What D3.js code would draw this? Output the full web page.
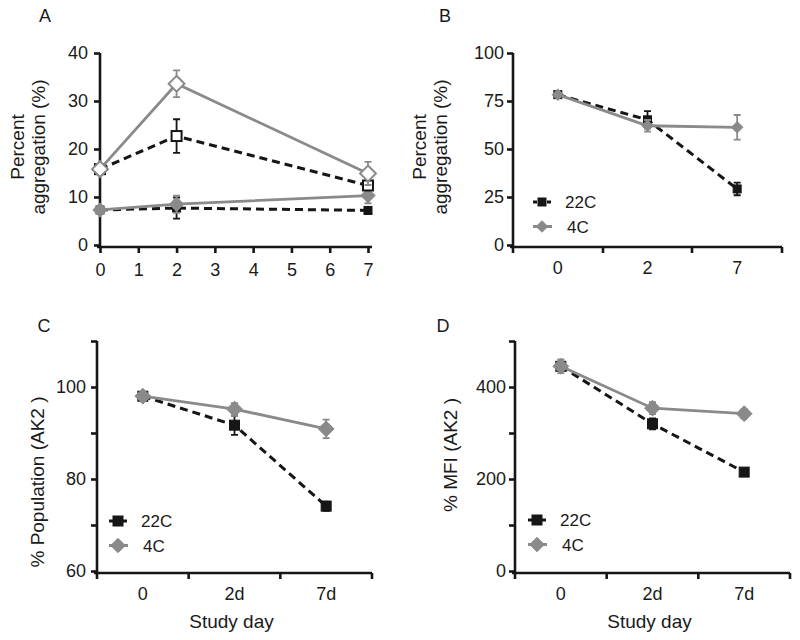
<!DOCTYPE html>
<html><head><meta charset="utf-8">
<script src="https://cdn.jsdelivr.net/npm/d3@7"></script>
<style>body{margin:0;background:#fff}svg{display:block;font-family:"Liberation Sans",Arial,sans-serif}</style>
</head><body><svg id="c" width="800" height="640"></svg>
<script>
// ---- Data ----
const daysA = [0, 2, 7];
const A_grayOpen = [15.8, 33.6, 14.9];
const A_grayOpenErr = [0.6, 2.8, 2.4];
const A_blackOpen = [15.8, 22.7, 12.4];
const A_blackOpenErr = [0.6, 3.5, 0.8];
const A_grayFill = [7.3, 8.5, 10.3];
const A_grayFillErr = [0.5, 1.8, 1.6];
const A_blackFill = [7.3, 7.7, 7.2];
const A_blackFillErr = [0.5, 2.2, 0.6];
const A_xTicks = [0, 1, 2, 3, 4, 5, 6, 7];
const A_yTicks = [0, 10, 20, 30, 40];

const B_cats = ["0", "2", "7"];
const B_22C = [78.3, 65.2, 29.2];
const B_22CErr = [0.8, 4.5, 3.3];
const B_4C = [78.3, 62.1, 61.3];
const B_4CErr = [0.8, 3.0, 6.4];
const B_yTicks = [0, 25, 50, 75, 100];

const CD_cats = ["0", "2d", "7d"];
const C_22C = [98.0, 91.7, 74.1];
const C_22CErr = [0.5, 2.1, 1.0];
const C_4C = [98.0, 95.2, 90.9];
const C_4CErr = [0.5, 1.3, 2.0];
const C_yTicks = [60, 70, 80, 90, 100, 110];
const C_yLabels = [60, 80, 100];

const D_22C = [445, 320, 215];
const D_22CErr = [10, 12, 4];
const D_4C = [445, 354, 342];
const D_4CErr = [15, 13, 10];
const D_yTicks = [0, 100, 200, 300, 400, 500];
const D_yLabels = [0, 200, 400];

const legendNames = ["22C", "4C"];

// ---- Styles ----
const BLACK = "#161616", GRAY = "#8a8a8a";
const svg = d3.select("#c");

function drawAxes(g, x, y, opt) {
  // y axis
  const ya = g.append("g").attr("transform", `translate(${opt.yAxisX},0)`)
    .call(d3.axisLeft(y).tickValues(opt.yTicks).tickSize(6).tickPadding(opt.yPad)
      .tickFormat(d => opt.yLabels.includes(d) ? d : ""));
  ya.select(".domain").attr("d", `M0,${opt.yTop}V${opt.xAxisY}`);
  // x axis
  const xa = g.append("g").attr("transform", `translate(0,${opt.xAxisY})`)
    .call(opt.xAxis);
  xa.select(".domain").attr("d", `M${opt.yAxisX - 3},0H${opt.xEnd}`);
  [ya, xa].forEach(a => {
    a.selectAll(".domain").attr("stroke", BLACK).attr("stroke-width", 2.6).attr("fill", "none");
    a.selectAll(".tick line").attr("stroke", BLACK).attr("stroke-width", 2.6);
    a.selectAll("text").attr("fill", "#1a1a1a").attr("font-size", 18)
      .attr("font-family", '"Liberation Sans",Arial,sans-serif');
  });
  return {ya, xa};
}

function marker(g, shape, cx, cy, size, color, filled) {
  if (shape === "square") {
    g.append("rect").attr("x", cx - size / 2).attr("y", cy - size / 2)
      .attr("width", size).attr("height", size)
      .attr("fill", filled ? color : "#fff").attr("stroke", color).attr("stroke-width", filled ? 1 : 2);
  } else {
    const r = size * 0.72;
    g.append("path").attr("d", `M${cx},${cy - r}L${cx + r},${cy}L${cx},${cy + r}L${cx - r},${cy}Z`)
      .attr("fill", filled ? color : "#fff").attr("stroke", color).attr("stroke-width", filled ? 1 : 2);
  }
}

function series(g, xs, vals, errs, x, y, o) {
  const pts = xs.map((d, i) => [x(d), y(vals[i])]);
  g.append("path").attr("d", d3.line()(pts)).attr("fill", "none")
    .attr("stroke", o.color).attr("stroke-width", o.dash ? 3 : 2.8)
    .attr("stroke-dasharray", o.dash ? "8,5" : null);
  xs.forEach((d, i) => {
    const cx = x(d), y1 = y(vals[i] + errs[i]), y2 = y(vals[i] - errs[i]);
    g.append("path").attr("d", `M${cx},${y1}V${y2}M${cx - 3.5},${y1}H${cx + 3.5}M${cx - 3.5},${y2}H${cx + 3.5}`)
      .attr("stroke", o.color).attr("stroke-width", 1.8).attr("fill", "none");
  });
  xs.forEach((d, i) => marker(g, o.shape, x(d), y(vals[i]), o.size, o.color, o.filled));
}

function legend(g, x0, yTop, size) {
  const items = [
    {name: legendNames[0], color: BLACK, shape: "square", dash: true},
    {name: legendNames[1], color: GRAY, shape: "diamond", dash: false}
  ];
  items.forEach((it, i) => {
    const yy = yTop + i * 24.5;
    g.append("line").attr("x1", x0 - 9).attr("x2", x0 + 10).attr("y1", yy).attr("y2", yy)
      .attr("stroke", it.color).attr("stroke-width", 3).attr("stroke-dasharray", it.dash ? "4,3" : null);
    marker(g, it.shape, x0, yy, size, it.color, true);
    g.append("text").attr("x", x0 + 23 + (i ? 2 : 0)).attr("y", yy + 6).attr("font-size", 17)
      .attr("fill", "#1a1a1a").text(it.name);
  });
}

function panelLabel(t, x, y) {
  svg.append("text").attr("x", x).attr("y", y).attr("font-size", 18).attr("fill", "#1a1a1a")
    .attr("text-anchor", "middle").text(t);
}

function yTitle(lines, cx, cy) {
  lines.forEach(l => {
    svg.append("text").attr("transform", `translate(${l.x},${cy}) rotate(-90)`)
      .attr("text-anchor", "middle").attr("font-size", 19).attr("fill", "#1a1a1a").text(l.t);
  });
}

// ---- Panel A ----
{
  const g = svg.append("g");
  const x = d3.scaleLinear().domain([0, 7]).range([100, 368]);
  const y = d3.scaleLinear().domain([0, 40]).range([245, 53]);
  drawAxes(g, x, y, {
    yAxisX: 100, yTop: 53, xAxisY: 247, xEnd: 372, yTicks: A_yTicks, yLabels: A_yTicks, yPad: 6,
    xAxis: d3.axisBottom(x).tickValues(A_xTicks).tickSize(6).tickPadding(10).tickFormat(d3.format("d"))
  });
  series(g, daysA, A_blackFill, A_blackFillErr, x, y, {color: BLACK, dash: true, shape: "square", size: 8, filled: true});
  series(g, daysA, A_grayFill, A_grayFillErr, x, y, {color: GRAY, dash: false, shape: "diamond", size: 10, filled: true});
  series(g, daysA, A_blackOpen, A_blackOpenErr, x, y, {color: BLACK, dash: true, shape: "square", size: 10, filled: false});
  series(g, daysA, A_grayOpen, A_grayOpenErr, x, y, {color: GRAY, dash: false, shape: "diamond", size: 11, filled: false});
  panelLabel("A", 45, 22);
  yTitle([{t: "Percent", x: 24}, {t: "aggregation (%)", x: 45}], 0, 147);
}

// ---- Panel B ----
{
  const g = svg.append("g");
  const xb = d3.scaleBand().domain(B_cats).range([513, 782]);
  const x = d => xb(d) + xb.bandwidth() / 2;
  const y = d3.scaleLinear().domain([0, 100]).range([245, 53]);
  const {xa} = drawAxes(g, x, y, {
    yAxisX: 513, yTop: 53, xAxisY: 247, xEnd: 782, yTicks: B_yTicks, yLabels: B_yTicks, yPad: 3,
    xAxis: d3.axisBottom(xb).tickSize(0).tickPadding(14)
  });
  [513, 603, 692, 782].forEach(px => xa.append("line").attr("x1", px).attr("x2", px).attr("y1", 0).attr("y2", 6)
    .attr("stroke", BLACK).attr("stroke-width", 2.6));
  series(g, B_cats, B_22C, B_22CErr, x, y, {color: BLACK, dash: true, shape: "square", size: 8, filled: true});
  series(g, B_cats, B_4C, B_4CErr, x, y, {color: GRAY, dash: false, shape: "diamond", size: 8, filled: true});
  legend(g, 542, 202, 8);
  panelLabel("B", 445, 22);
  yTitle([{t: "Percent", x: 426}, {t: "aggregation (%)", x: 447}], 0, 147);
}

// ---- Panel C ----
function panelCD(vals22, err22, vals4, err4, yDomain, yTicks, yLabels, x0, x1, yPad) {
  const g = svg.append("g");
  const xb = d3.scaleBand().domain(CD_cats).range([x0, x1]);
  const x = d => xb(d) + xb.bandwidth() / 2;
  const y = d3.scaleLinear().domain(yDomain).range([571, 341]);
  const {xa} = drawAxes(g, x, y, {
    yAxisX: x0, yTop: 341, xAxisY: 573, xEnd: x1, yTicks, yLabels, yPad,
    xAxis: d3.axisBottom(xb).tickSize(0).tickPadding(14)
  });
  const bw = xb.step();
  [0, 1, 2, 3].forEach(k => xa.append("line").attr("x1", x0 + k * bw).attr("x2", x0 + k * bw).attr("y1", 0).attr("y2", 6)
    .attr("stroke", BLACK).attr("stroke-width", 2.6));
  g.append("text").attr("x", (x0 + x1) / 2 - 3).attr("y", 628).attr("text-anchor", "middle")
    .attr("font-size", 19).attr("fill", "#1a1a1a").text("Study day");
  series(g, CD_cats, vals22, err22, x, y, {color: BLACK, dash: true, shape: "square", size: 10, filled: true});
  series(g, CD_cats, vals4, err4, x, y, {color: GRAY, dash: false, shape: "diamond", size: 11, filled: true});
  return g;
}
{
  const g = panelCD(C_22C, C_22CErr, C_4C, C_4CErr, [60, 110], C_yTicks, C_yLabels, 97, 372, 5);
  legend(g, 118, 521, 10);
  panelLabel("C", 44, 332);
  yTitle([{t: "% Population (AK2 )", x: 44}], 0, 482);
}
{
  const g = panelCD(D_22C, D_22CErr, D_4C, D_4CErr, [0, 500], D_yTicks, D_yLabels, 515, 790, 3);
  legend(g, 537, 520, 10);
  panelLabel("D", 443, 332);
  yTitle([{t: "% MFI (AK2 )", x: 457}], 0, 455);
}
</script></body></html>
